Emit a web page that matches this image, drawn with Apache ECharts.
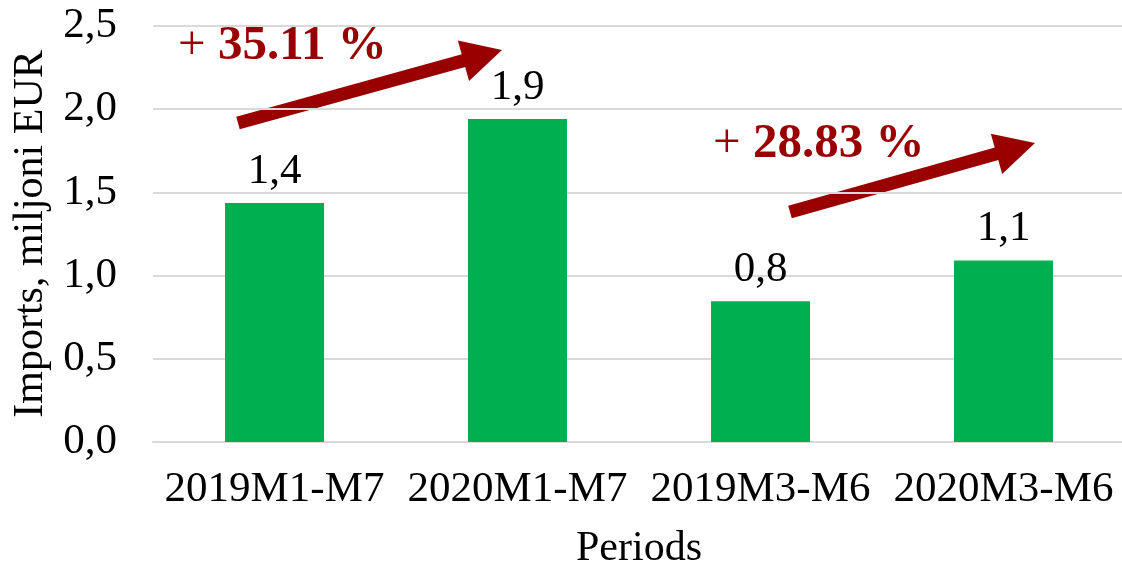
<!DOCTYPE html>
<html>
<head>
<meta charset="utf-8">
<script src="https://cdn.jsdelivr.net/npm/echarts@6/dist/echarts.min.js"></script>
<style>
  html, body { margin: 0; padding: 0; background: #fff; }
  #chart { width: 1122px; height: 564px; }
</style>
</head>
<body>
<div id="chart"></div>
<script>
  // data
  const periods = ['2019M1-M7', '2020M1-M7', '2019M3-M6', '2020M3-M6']
  const imports = [1.437, 1.941, 0.846, 1.09]
  const yTicks = ['0,0', '0,5', '1,0', '1,5', '2,0', '2,5']
  const growthLabels = ['+ 35.11 %', '+ 28.83 %']

  const font = 'Liberation Serif, Times New Roman, serif'
  const darkRed = '#990000'

  // arrow annotation: shaft + head, pixel coords
  function arrow(x1, y1, x2, y2) {
    const dx = x2 - x1, dy = y2 - y1
    const len = Math.sqrt(dx * dx + dy * dy)
    const ux = dx / len, uy = dy / len
    const headLen = 40, headW = 21
    const bx = x2 - ux * headLen, by = y2 - uy * headLen
    return [{
      type: 'line',
      shape: { x1: x1, y1: y1, x2: bx + ux * 2, y2: by + uy * 2 },
      style: { stroke: darkRed, lineWidth: 13 }
    }, {
      type: 'polygon',
      shape: { points: [[x2, y2], [bx - uy * headW, by + ux * headW], [bx + uy * headW, by - ux * headW]] },
      style: { fill: darkRed }
    }]
  }

  function growthText(text, x, y) {
    return {
      type: 'text',
      left: x,
      top: y,
      style: {
        text: '{p|+ }{n|' + text.slice(2) + '}',
        rich: {
          p: { fontFamily: font, fontSize: 49, fill: darkRed, fontWeight: 'normal' },
          n: { fontFamily: font, fontSize: 49, fill: darkRed, fontWeight: 'bold' }
        }
      }
    }
  }

  const chart = echarts.init(document.getElementById('chart'))
  const options = {
    animation: false,
    grid: {
      left: 153,
      top: 26,
      width: 972,
      height: 416,
      outerBoundsMode: 'none'
    },
    xAxis: {
      type: 'category',
      data: periods,
      name: 'Periods',
      nameLocation: 'middle',
      nameGap: 86,
      nameTextStyle: { fontFamily: font, fontSize: 42, color: '#000' },
      axisTick: { show: false },
      axisLine: { show: true, lineStyle: { color: '#d9d9d9', width: 2 } },
      axisLabel: { fontFamily: font, fontSize: 43, color: '#000', margin: 26, interval: 0 }
    },
    yAxis: {
      type: 'value',
      min: 0,
      max: 2.5,
      interval: 0.5,
      name: 'Imports, miljoni EUR',
      nameLocation: 'middle',
      nameRotate: 90,
      nameGap: 101,
      nameTextStyle: { fontFamily: font, fontSize: 42, color: '#000' },
      axisLine: { show: false },
      axisTick: { show: false },
      splitLine: { lineStyle: { color: '#d9d9d9', width: 2 } },
      axisLabel: {
        fontFamily: font, fontSize: 43, color: '#000', margin: 36,
        formatter: function (v) { return yTicks[Math.round(v / 0.5)] }
      }
    },
    series: [{
      type: 'bar',
      data: imports,
      barWidth: 99,
      itemStyle: { color: '#00B050' },
      label: {
        show: true,
        position: 'top',
        distance: 10,
        fontFamily: font,
        fontSize: 43,
        color: '#000',
        formatter: function (p) { return p.value.toFixed(1).replace('.', ',') }
      }
    }],
    graphic: [
      ...arrow(238, 123, 502, 50),
      ...arrow(790, 212, 1035, 143),
      growthText(growthLabels[0], 178, 22),
      growthText(growthLabels[1], 713, 120)
    ]
  }
  chart.setOption(options, true)
</script>
</body>
</html>
